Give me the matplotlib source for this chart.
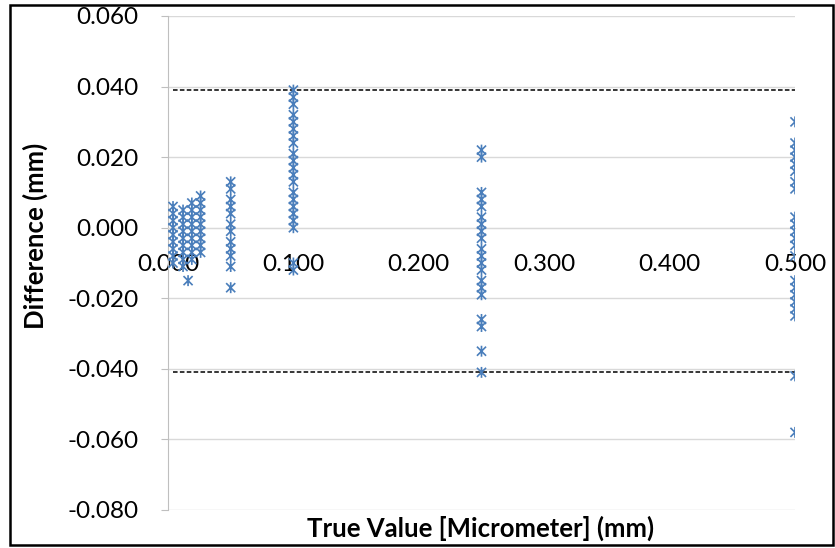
import matplotlib
matplotlib.use("Agg")
import matplotlib.pyplot as plt
from matplotlib.path import Path
from matplotlib.patches import Rectangle

# True value (mm) for each measured group and the differences observed
x_c1, d_c1 = 0.004, [0.006, 0.004, 0.002, 0.000, -0.002, -0.004, -0.006, -0.008, -0.010]
x_c2, d_c2 = 0.012, [0.005, 0.003, 0.001, -0.001, -0.003, -0.005, -0.007, -0.009, -0.011]
x_c3, d_c3 = 0.019, [0.007, 0.005, 0.003, 0.001, -0.001, -0.003, -0.005, -0.007, -0.009]
x_c4, d_c4 = 0.026, [0.009, 0.007, 0.005, 0.003, 0.001, -0.001, -0.003, -0.005, -0.007]
x_c5, d_c5 = 0.016, [-0.015]
x_c6, d_c6 = 0.050, [0.013, 0.011, 0.008, 0.006, 0.004, 0.001, -0.001, -0.004,
                     -0.006, -0.008, -0.011, -0.017]
x_c7, d_c7 = 0.100, [0.039, 0.037, 0.035, 0.032, 0.030, 0.028, 0.026, 0.024, 0.021,
                     0.019, 0.017, 0.015, 0.013, 0.010, 0.008, 0.006, 0.004, 0.002,
                     0.000, -0.010, -0.012]
x_c8, d_c8 = 0.250, [0.022, 0.020, 0.010, 0.008, 0.006, 0.003, 0.001, -0.001, -0.003,
                     -0.006, -0.008, -0.010, -0.012, -0.015, -0.017, -0.019,
                     -0.026, -0.028, -0.035, -0.041]
x_c9, d_c9 = 0.500, [0.030, 0.024, 0.022, 0.020, 0.018, 0.016, 0.013, 0.011,
                     0.003, 0.001, -0.001, -0.003, -0.005, -0.008,
                     -0.015, -0.017, -0.019, -0.021, -0.023, -0.025, -0.042, -0.058]

groups = [(x_c1, d_c1), (x_c2, d_c2), (x_c3, d_c3), (x_c4, d_c4), (x_c5, d_c5),
          (x_c6, d_c6), (x_c7, d_c7), (x_c8, d_c8), (x_c9, d_c9)]

# Limits of agreement
upper_loa = 0.039
lower_loa = -0.041

x_ticks = [0.0, 0.1, 0.2, 0.3, 0.4, 0.5]
y_ticks = [-0.08, -0.06, -0.04, -0.02, 0.0, 0.02, 0.04, 0.06]

xs, ys = [], []
for gx, gd in groups:
    xs += [gx] * len(gd)
    ys += gd

# Asterisk marker: two diagonals and a vertical stroke
star = Path([(-1, -1), (1, 1), (-1, 1), (1, -1), (0, -1.2), (0, 1.2)],
            [Path.MOVETO, Path.LINETO, Path.MOVETO, Path.LINETO, Path.MOVETO, Path.LINETO])

plt.rcParams['font.family'] = ['Lato', 'DejaVu Sans']

fig = plt.figure(figsize=(8.35, 5.48), dpi=100)
ax = fig.add_axes([168 / 835, 1 - 510 / 548, (795 - 168) / 835, (510 - 16) / 548])

grid_c = '#d9d9d9'
for yv in y_ticks:
    ax.axhline(yv, color=grid_c, lw=1.0, zorder=0)

ax.scatter(xs, ys, marker=star, s=62, facecolors='none', edgecolors='#4a7ebb',
           linewidths=1.2, zorder=3)

xmin, xmax = min(xs), max(xs)
ax.plot([xmin, xmax], [upper_loa, upper_loa], color='black', lw=1.1,
        dashes=(3, 1.5), zorder=2)
ax.plot([xmin, xmax], [lower_loa, lower_loa], color='black', lw=1.1,
        dashes=(3, 1.5), zorder=2)

ax.set_xlim(0, 0.5)
ax.set_ylim(-0.08, 0.06)
ax.set_xticks(x_ticks)
ax.set_xticklabels([f"{v:.3f}" for v in x_ticks])
ax.set_yticks(y_ticks)
ax.set_yticklabels([f"{v:.3f}" for v in y_ticks])

for s in ['top', 'right']:
    ax.spines[s].set_visible(False)
ax.spines['left'].set_color('#bfbfbf')
ax.spines['bottom'].set_position(('data', 0))
ax.spines['bottom'].set_color(grid_c)

ax.tick_params(axis='y', length=5, color='#bfbfbf', pad=16, labelsize=17.5, labelcolor='black')
ax.tick_params(axis='x', length=0, pad=19, labelsize=17.5, labelcolor='black')

fig.text(35 / 835, 1 - 236 / 548, 'Difference (mm)', rotation=90, ha='center', va='center',
         fontsize=18.5, fontweight='bold')
fig.text(481 / 835, 1 - 528 / 548, 'True Value [Micrometer] (mm)', ha='center', va='center',
         fontsize=18.5, fontweight='bold')

fig.patches.append(Rectangle((10 / 835, 1 - 545 / 548), 823 / 835, 540 / 548,
                             transform=fig.transFigure, fill=False, edgecolor='black',
                             lw=1.8, zorder=10))

fig.savefig('out.png', dpi=100)
